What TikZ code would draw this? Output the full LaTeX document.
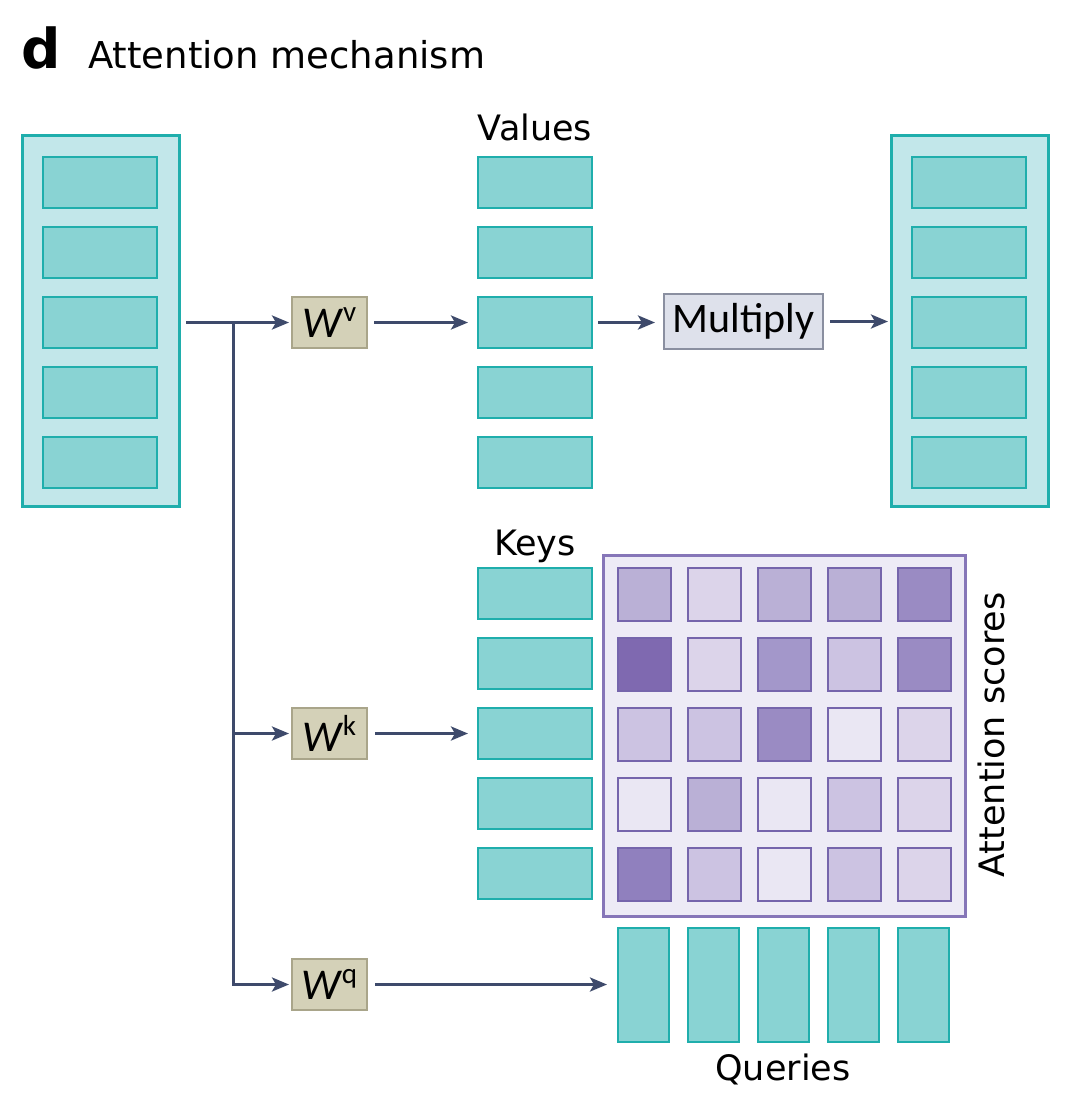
\documentclass[tikz,border=0pt]{standalone}
\usepackage{fontspec}
\setmainfont{DejaVu Sans}
\newfontfamily\calfont{Carlito}
\usetikzlibrary{arrows.meta}
\definecolor{tealB}{HTML}{1FAEAC}
\definecolor{tealF}{HTML}{89D3D3}
\definecolor{tealO}{HTML}{C2E7EA}
\definecolor{khakiF}{HTML}{D4D1B8}
\definecolor{khakiB}{HTML}{A9A58A}
\definecolor{mulF}{HTML}{DEE1EB}
\definecolor{mulB}{HTML}{8A8FA0}
\definecolor{arrC}{HTML}{3E4A6B}
\definecolor{matF}{HTML}{EDEBF6}
\definecolor{matB}{HTML}{8676B8}
\definecolor{cellB}{HTML}{7565AC}
\definecolor{sa}{HTML}{EAE7F3}
\definecolor{sb}{HTML}{DCD4EA}
\definecolor{sc}{HTML}{CCC3E2}
\definecolor{sd}{HTML}{BAB0D6}
\definecolor{se}{HTML}{A397CA}
\definecolor{sf}{HTML}{9A8BC3}
\definecolor{sg}{HTML}{7F69B0}
\definecolor{sh}{HTML}{9080BE}
\begin{document}
\begin{tikzpicture}[x=1pt,y=-1pt,
 outerbox/.style={draw=tealB,fill=tealO,line width=3pt,minimum width=157pt,minimum height=371pt,inner sep=0pt,outer sep=0pt},
 vec/.style={draw=tealB,fill=tealF,line width=2.2pt,minimum width=114pt,minimum height=51pt,inner sep=0pt,outer sep=0pt},
 qvec/.style={vec,minimum width=51pt,minimum height=114pt},
 wbox/.style={draw=khakiB,fill=khakiF,line width=1.8pt,minimum width=75pt,minimum height=51pt,inner sep=0pt,outer sep=0pt,font=\calfont\fontsize{44}{44}\selectfont},
 mulbox/.style={draw=mulB,fill=mulF,line width=1.8pt,minimum width=159pt,minimum height=55pt,inner sep=0pt,outer sep=0pt,font=\calfont\fontsize{42}{42}\selectfont},
 matbox/.style={draw=matB,fill=matF,line width=3pt,minimum width=362pt,minimum height=361pt,inner sep=0pt,outer sep=0pt},
 score/.style={draw=cellB,line width=2pt,minimum size=53pt,inner sep=0pt,outer sep=0pt},
 lbl/.style={font=\fontsize{35}{42}\selectfont,inner sep=0pt,anchor=base},
 arr/.style={draw=arrC,line width=3pt,-{Stealth[length=17pt,width=14pt,inset=4pt]}}]
\fill[white] (0,0) rectangle (1080,1114);
% title
\node[anchor=base west,inner sep=0pt,font=\bfseries\fontsize{55}{60}\selectfont] (tl) at (21,68) {d};
\node[anchor=base west,inner sep=0pt,font=\fontsize{37}{44}\selectfont] (title) at (88,68) {Attention mechanism};
% input and output
\node[outerbox] (in) at (100.5,320.5) {};
\node[outerbox] (out) at (969.5,320.5) {};
\foreach \i in {1,...,5} {
  \node[vec] (in\i) at (100,{112.5+70*\i}) {};
  \node[vec] (out\i) at (969,{112.5+70*\i}) {};
  \node[vec] (v\i) at (535,{112.5+70*\i}) {};
  \node[vec] (k\i) at (535,{523.5+70*\i}) {};
  \node[qvec] (q\i) at ({573.5+70*\i},985) {};
}
\node[lbl] (vl) at (535,140) {Values};
\node[lbl] (kl) at (535,555) {Keys};
\node[lbl] (ql) at (783,1080) {Queries};
% W boxes
\node[wbox] (wv) at (329.5,322.5) {\itshape W\upshape\kern1pt\raisebox{16pt}{\fontsize{29}{29}\selectfont v}};
\node[wbox] (wk) at (329.5,733.5) {\itshape W\upshape\kern1pt\raisebox{16pt}{\fontsize{29}{29}\selectfont k}};
\node[wbox] (wq) at (329.5,984.5) {\itshape W\upshape\kern1pt\raisebox{16pt}{\fontsize{29}{29}\selectfont q}};
\node[mulbox] (mul) at (743.5,321.5) {Multiply};
% attention matrix
\node[matbox] (mat) at (784,735.5) {};
\foreach \r/\row in {1/{sd,sb,sd,sd,sf},2/{sg,sb,se,sc,sf},3/{sc,sc,sf,sa,sb},4/{sa,sd,sa,sc,sb},5/{sh,sc,sa,sc,sb}} {
  \foreach \c [count=\j] in \row {
    \node[score,fill=\c] (s\r\j) at ({574.5+70*\j},{524.5+70*\r}) {};
  }
}
\node[lbl,rotate=90] (al) at (1004,735) {Attention scores};
% connectors
\coordinate (start) at (186,322.5);
\coordinate (split) at (233,322.5);
\draw[arr,shorten >=3pt] (start) -- (wv.west);
\draw[arr,shorten >=3pt] (split) |- (wq.west);
\draw[arr,shorten >=3pt] (split |- wk.west) -- (wk.west);
\draw[arr,shorten <=7pt,shorten >=10pt] (wv.east) -- (v3.west);
\draw[arr,shorten <=8pt,shorten >=10pt] (wk.east) -- (k3.west);
\draw[arr,shorten <=8pt,shorten >=11pt] (wq.east) -- (wq.east -| q1.west);
\draw[arr,shorten <=6pt,shorten >=9pt] (v3.east) -- (v3.east -| mul.west);
\draw[arr,shorten <=7pt,shorten >=3pt] (mul.east) -- (mul.east -| out.west);
\end{tikzpicture}
\end{document}
